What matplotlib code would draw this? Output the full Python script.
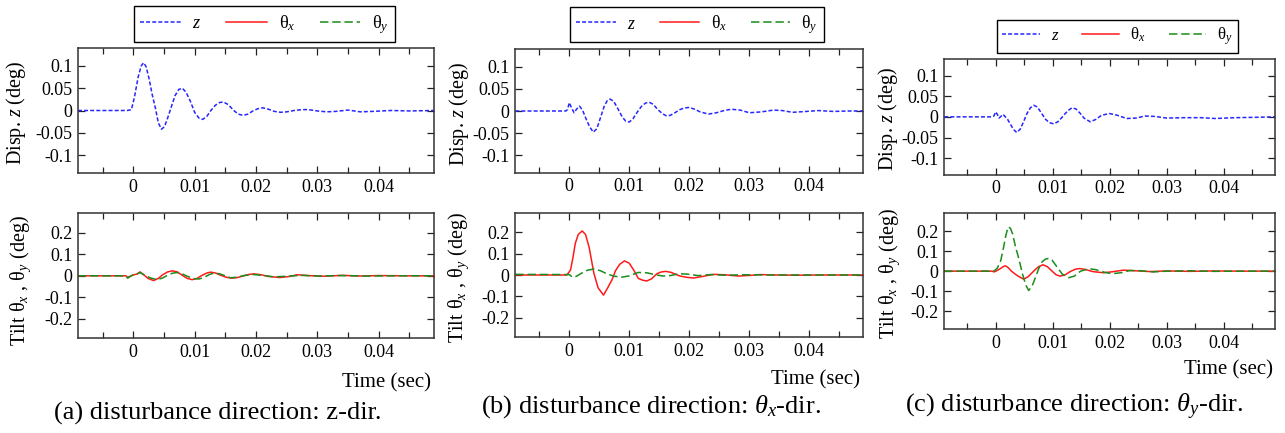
import matplotlib
matplotlib.use('Agg')
import matplotlib.pyplot as plt
from matplotlib.lines import Line2D

plt.rcParams['font.family'] = ['Liberation Serif', 'DejaVu Serif']
plt.rcParams['mathtext.fontset'] = 'custom'
plt.rcParams['mathtext.rm'] = 'Liberation Serif'
plt.rcParams['mathtext.it'] = 'Liberation Serif:italic'
plt.rcParams['mathtext.bf'] = 'Liberation Serif:bold'
plt.rcParams['axes.unicode_minus'] = False

# ---------------- data ----------------
x_ticks = [0, 0.01, 0.02, 0.03, 0.04]
x_tick_labels = ['0', '0.01', '0.02', '0.03', '0.04']
z_ticks = [-0.1, -0.05, 0, 0.05, 0.1]
z_tick_labels = ['-0.1', '-0.05', '0', '0.05', '0.1']
tilt_ticks = [-0.2, -0.1, 0, 0.1, 0.2]
tilt_tick_labels = ['-0.2', '-0.1', '0', '0.1', '0.2']

legend_labels = ['$z$', 'θ$_x$', 'θ$_y$']
captions = ['(a) disturbance direction: z-dir.',
            '(b) disturbance direction: $\\theta_x$-dir.',
            '(c) disturbance direction: $\\theta_y$-dir.']
ylabel_top = 'Disp. $z$ (deg)'
ylabel_bottom = 'Tilt θ$_x$ , θ$_y$ (deg)'
xlabel = 'Time (sec)'

# (a) disturbance in z
a_z_t = [-0.009, -0.001, -0.0003, 0.0002, 0.0008, 0.0013, 0.0017, 0.0021, 0.0026, 0.0031,
         0.0036, 0.0041, 0.0046, 0.0051, 0.0056, 0.0062, 0.0068, 0.0074, 0.0080, 0.0086,
         0.0093, 0.0100, 0.0107, 0.0113, 0.0120, 0.0127, 0.0134, 0.0141, 0.0147, 0.0155,
         0.0163, 0.0171, 0.0179, 0.0187, 0.0195, 0.0203, 0.0211, 0.0220, 0.0230, 0.0240,
         0.0250, 0.0262, 0.0275, 0.0285, 0.0300, 0.0315, 0.0330, 0.0350, 0.0370, 0.0390,
         0.0420, 0.0450, 0.0490]
a_z_v = [0, 0, 0.002, 0.03, 0.075, 0.100, 0.107, 0.098, 0.07, 0.035,
         0.006, -0.028, -0.042, -0.036, -0.017, 0.008, 0.033, 0.047, 0.050, 0.041,
         0.021, -0.004, -0.017, -0.020, -0.013, 0.001, 0.012, 0.018, 0.019, 0.013,
         0.001, -0.008, -0.011, -0.008, -0.001, 0.004, 0.006, 0.003, -0.002, -0.004,
         -0.003, 0.0, 0.002, 0.002, -0.001, -0.003, -0.002, 0.001, -0.003, -0.002,
         0.0, -0.001, 0.0]
a_tx_t = [-0.009, -0.0012, -0.0009, -0.0005, 0.0, 0.0006, 0.0011, 0.0017, 0.0024, 0.0033,
          0.0041, 0.0048, 0.0056, 0.0064, 0.0072, 0.0080, 0.0088, 0.0096, 0.0104, 0.0112,
          0.0120, 0.0126, 0.0134, 0.0143, 0.0152, 0.0161, 0.0170, 0.0180, 0.0188, 0.0196,
          0.0208, 0.0220, 0.0239, 0.0255, 0.0267, 0.0285, 0.0310, 0.0340, 0.0370, 0.0400,
          0.0440, 0.0490]
a_tx_v = [0, 0, -0.008, -0.002, 0.004, 0.008, 0.018, 0.005, -0.012, -0.022,
          -0.012, 0.005, 0.018, 0.023, 0.018, 0.002, -0.012, -0.018, -0.012, 0.002,
          0.013, 0.017, 0.013, 0.002, -0.007, -0.011, -0.008, 0.0, 0.006, 0.009,
          0.005, -0.003, -0.008, -0.003, 0.005, 0.001, -0.002, 0.002, -0.001, 0.001,
          0.0, 0.0]
a_ty_t = [-0.009, -0.0012, -0.0009, -0.0005, 0.0, 0.0006, 0.0011, 0.0018, 0.0028, 0.0039,
          0.0048, 0.0056, 0.0064, 0.0071, 0.0079, 0.0088, 0.0098, 0.0107, 0.0116, 0.0124,
          0.0131, 0.0140, 0.0150, 0.0158, 0.0168, 0.0180, 0.0195, 0.0212, 0.0229, 0.0250,
          0.0275, 0.0300, 0.0340, 0.0380, 0.0430, 0.0490]
a_ty_v = [0, 0, -0.011, -0.003, 0.004, 0.008, 0.015, 0.004, -0.010, -0.018,
          -0.010, 0.003, 0.012, 0.015, 0.010, -0.002, -0.013, -0.015, -0.007, 0.006,
          0.012, 0.010, 0.000, -0.009, -0.007, 0.001, 0.006, 0.002, -0.005, -0.002,
          0.002, -0.001, 0.001, -0.001, 0.0, 0.0]

# (b) disturbance in theta_x
b_z_t = [-0.009, -0.0006, -0.0003, 0.0, 0.0004, 0.0008, 0.0012, 0.0017, 0.0022, 0.0028,
         0.0034, 0.0040, 0.0046, 0.0052, 0.0058, 0.0063, 0.0068, 0.0074, 0.0081, 0.0088,
         0.0094, 0.0100, 0.0106, 0.0113, 0.0120, 0.0127, 0.0133, 0.0140, 0.0147, 0.0155,
         0.0162, 0.0168, 0.0176, 0.0184, 0.0192, 0.0200, 0.0209, 0.0218, 0.0232, 0.0245,
         0.0258, 0.0270, 0.0285, 0.0300, 0.0320, 0.0340, 0.0355, 0.0372, 0.0395, 0.0415,
         0.0440, 0.0465, 0.0490]
b_z_v = [0, 0, 0.003, 0.019, 0.006, -0.004, 0.004, 0.011, 0.002, -0.018,
         -0.036, -0.048, -0.040, -0.015, 0.010, 0.023, 0.027, 0.022, 0.005, -0.013,
         -0.023, -0.025, -0.018, -0.003, 0.010, 0.018, 0.020, 0.015, 0.004, -0.006,
         -0.011, -0.010, -0.004, 0.003, 0.007, 0.008, 0.004, -0.002, -0.007, -0.004,
         0.001, 0.004, 0.002, -0.004, -0.002, 0.002, 0.001, -0.003, -0.001, 0.001,
         -0.001, 0.0, 0.0]
b_tx_t = [-0.009, -0.0004, 0.0002, 0.0006, 0.0010, 0.0015, 0.00215, 0.0027, 0.0033, 0.0041,
          0.0048, 0.0057, 0.0064, 0.0071, 0.0077, 0.0084, 0.0092, 0.0100, 0.0108, 0.0115,
          0.0122, 0.0129, 0.0137, 0.0146, 0.0153, 0.0161, 0.0170, 0.0178, 0.0185, 0.0196,
          0.0207, 0.0220, 0.0240, 0.0260, 0.0281, 0.0300, 0.0318, 0.0345, 0.0380, 0.0420,
          0.0490]
b_tx_v = [0, 0, 0.023, 0.08, 0.148, 0.19, 0.206, 0.19, 0.13, 0.008,
          -0.06, -0.094, -0.06, -0.023, 0.02, 0.05, 0.066, 0.055, 0.02, -0.016,
          -0.024, -0.028, -0.018, 0.006, 0.014, 0.017, 0.012, 0.002, -0.005, -0.011,
          -0.014, -0.008, 0.003, 0.001, -0.005, -0.002, 0.002, 0.0, -0.001, 0.0,
          0.0]
b_ty_t = [-0.009, 0.0, 0.0005, 0.0012, 0.0020, 0.0030, 0.0041, 0.0052, 0.0063, 0.0075,
          0.0088, 0.0100, 0.0115, 0.0130, 0.0145, 0.0157, 0.0170, 0.0182, 0.0197, 0.0215,
          0.0235, 0.0260, 0.0290, 0.0330, 0.0380, 0.0490]
b_ty_v = [0.003, 0.002, -0.010, -0.006, 0.008, 0.022, 0.028, 0.020, 0.005, -0.006,
          -0.010, -0.004, 0.012, 0.010, 0.000, -0.005, -0.002, 0.006, 0.004, -0.003,
          0.002, -0.001, 0.001, 0.0, 0.0, 0.0]

# (c) disturbance in theta_y
c_z_t = [-0.009, -0.0007, -0.0003, 0.0, 0.0003, 0.0006, 0.0010, 0.0013, 0.0017, 0.0021,
         0.0026, 0.0031, 0.0037, 0.0043, 0.0049, 0.0055, 0.0061, 0.0067, 0.0073, 0.0080,
         0.0087, 0.0094, 0.0102, 0.0109, 0.0116, 0.0122, 0.0128, 0.0134, 0.0141, 0.0148,
         0.0155, 0.0166, 0.0176, 0.0186, 0.0200, 0.0213, 0.0230, 0.0246, 0.0262, 0.0280,
         0.0300, 0.0330, 0.0360, 0.0385, 0.0420, 0.0460, 0.0490]
c_z_v = [0, 0, 0.002, 0.012, 0.006, -0.003, 0.002, 0.006, 0.000, -0.006,
         -0.018, -0.030, -0.038, -0.030, -0.012, 0.008, 0.022, 0.028, 0.024, 0.010,
         -0.005, -0.014, -0.017, -0.012, -0.002, 0.008, 0.016, 0.022, 0.019, 0.009,
         -0.003, -0.012, -0.006, 0.004, 0.008, 0.004, -0.004, -0.003, 0.002, 0.001,
         -0.003, -0.002, -0.002, -0.004, -0.002, -0.001, 0.0]
c_tx_t = [-0.009, -0.0006, -0.0003, 0.0002, 0.0008, 0.0013, 0.0017, 0.0022, 0.0027, 0.0033,
          0.0040, 0.0049, 0.0057, 0.0066, 0.0075, 0.0083, 0.0091, 0.0099, 0.0106, 0.0113,
          0.0122, 0.0131, 0.0140, 0.0148, 0.0158, 0.0170, 0.0189, 0.0205, 0.0224, 0.0245,
          0.0270, 0.0300, 0.0340, 0.0380, 0.0430, 0.0490]
c_tx_v = [0, 0, -0.004, 0.002, 0.012, 0.022, 0.027, 0.018, 0.002, -0.012,
          -0.026, -0.040, -0.028, -0.002, 0.022, 0.032, 0.022, 0.000, -0.018, -0.025,
          -0.018, -0.002, 0.010, 0.013, 0.008, -0.002, -0.008, -0.003, 0.005, 0.002,
          -0.002, 0.001, -0.001, 0.001, 0.0, 0.0]
c_ty_t = [-0.009, -0.0003, 0.0003, 0.0009, 0.0014, 0.0018, 0.0022, 0.0026, 0.0030, 0.0035,
          0.0041, 0.0047, 0.0053, 0.0058, 0.0064, 0.0070, 0.0076, 0.0081, 0.0087, 0.0093,
          0.0099, 0.0108, 0.0117, 0.0128, 0.0138, 0.0149, 0.0163, 0.0175, 0.0190, 0.0204,
          0.0220, 0.0235, 0.0255, 0.0276, 0.0300, 0.0340, 0.0380, 0.0430, 0.0490]
c_ty_v = [0, 0, 0.015, 0.053, 0.12, 0.18, 0.222, 0.215, 0.185, 0.12,
          0.06, -0.013, -0.07, -0.097, -0.075, -0.03, 0.015, 0.045, 0.06, 0.064,
          0.055, 0.02, -0.015, -0.033, -0.025, 0.000, 0.012, 0.008, -0.005, -0.013,
          -0.008, 0.003, 0.002, -0.004, 0.000, 0.002, -0.001, 0.0, 0.0]

series = [
    ((a_z_t, a_z_v), (a_tx_t, a_tx_v), (a_ty_t, a_ty_v)),
    ((b_z_t, b_z_v), (b_tx_t, b_tx_v), (b_ty_t, b_ty_v)),
    ((c_z_t, c_z_v), (c_tx_t, c_tx_v), (c_ty_t, c_ty_v)),
]

# ---------------- layout (pixels) ----------------
W, H = 1285, 433
fig = plt.figure(figsize=(W / 100, H / 100), dpi=100)

layout = [
    dict(top=(78, 48, 434, 173), bot=(78, 213.3, 434, 338.3), leg=(264.5, 24.3), legfs=13.2,
         cap=(217.5, 413), time=(431, 382.5), ylt=(16, 113), ylb=(21, 281)),
    dict(top=(515.3, 49.3, 863.3, 172.7), bot=(515.3, 213, 863.3, 337), leg=(697, 24.8), legfs=12.8,
         cap=(651, 407), time=(860, 380), ylt=(459, 114), ylb=(459, 278)),
    dict(top=(944.3, 59, 1275, 174.7), bot=(944.3, 213.3, 1275, 329), leg=(1117.5, 36.7), legfs=12.2,
         cap=(1074, 407), time=(1273, 370), ylt=(888, 119), ylb=(890, 274)),
]

C_Z, C_X, C_Y = '#2626ff', '#ff1a1a', '#1a8c1a'
DZ = (2.6, 1.4)
DY = (5.5, 2.5)


def add_ax(box):
    l, t, r, b = box
    return fig.add_axes([l / W, 1 - b / H, (r - l) / W, (b - t) / H])


def style(ax, lim, ticks, labels):
    ax.set_xlim(-0.009, 0.049)
    ax.set_ylim(-lim, lim)
    ax.set_xticks(x_ticks)
    ax.set_xticklabels(x_tick_labels)
    ax.set_xticks([-0.005, 0.005, 0.015, 0.025, 0.035, 0.045], minor=True)
    ax.set_yticks(ticks)
    ax.set_yticklabels(labels)
    ax.tick_params(which='both', direction='in', top=True, right=True,
                   labelsize=13, width=0.9, color='#222222', pad=4)
    ax.tick_params(which='major', length=5)
    ax.tick_params(which='minor', length=4)
    for s in ax.spines.values():
        s.set_linewidth(1.1)
        s.set_color('#333333')


for i, (lay, (zs, txs, tys)) in enumerate(zip(layout, series)):
    axt = add_ax(lay['top'])
    axt.plot(zs[0], zs[1], color=C_Z, lw=1.1, dashes=DZ)
    style(axt, 0.14, z_ticks, z_tick_labels)

    axb = add_ax(lay['bot'])
    axb.plot(txs[0], txs[1], color=C_X, lw=1.1)
    axb.plot(tys[0], tys[1], color=C_Y, lw=1.1, dashes=DY)
    style(axb, 0.29, tilt_ticks, tilt_tick_labels)

    handles = [Line2D([], [], color=C_Z, lw=1.1, dashes=DZ),
               Line2D([], [], color=C_X, lw=1.1),
               Line2D([], [], color=C_Y, lw=1.1, dashes=DY)]
    lx, ly = lay['leg']
    leg = fig.legend(handles, legend_labels, loc='center',
                     bbox_to_anchor=(lx / W, 1 - ly / H), ncol=3, frameon=True,
                     fancybox=False, edgecolor='black', framealpha=1,
                     handlelength=2.2, handletextpad=0.65, columnspacing=1.35,
                     fontsize=lay['legfs'], borderpad=0.35)
    leg.get_frame().set_linewidth(1.0)

    cx, cy = lay['cap']
    fig.text(cx / W, 1 - cy / H, captions[i], ha='center', va='center', fontsize=19)
    tx, ty = lay['time']
    fig.text(tx / W, 1 - ty / H, xlabel, ha='right', va='center', fontsize=15)
    yx, yy = lay['ylt']
    fig.text(yx / W, 1 - yy / H, ylabel_top, rotation=90, ha='center', va='center', fontsize=14.5)
    yx, yy = lay['ylb']
    fig.text(yx / W, 1 - yy / H, ylabel_bottom, rotation=90, ha='center', va='center', fontsize=14.5)

fig.savefig('out.png', dpi=100)
